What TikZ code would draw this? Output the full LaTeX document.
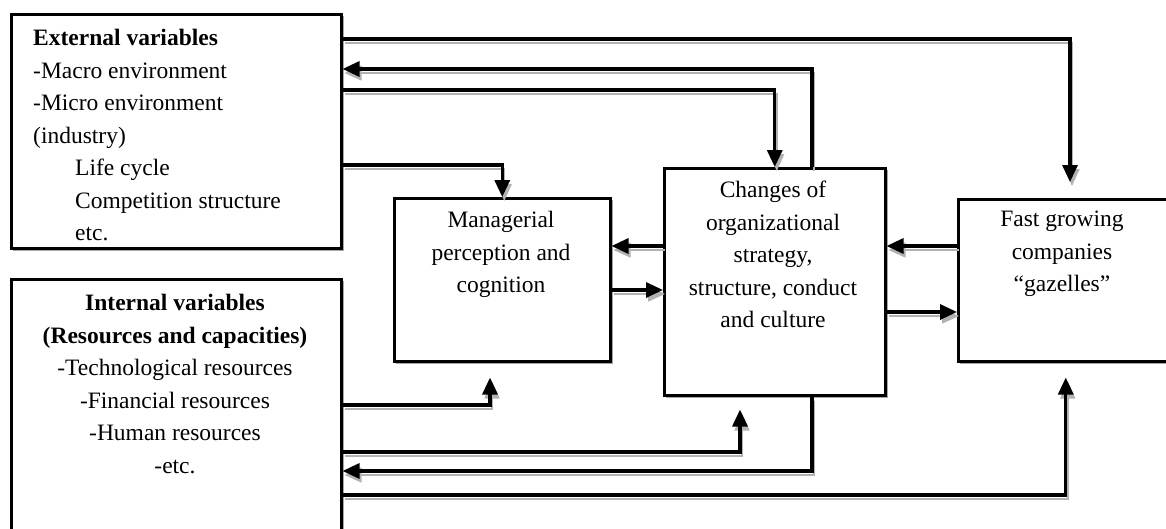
\documentclass[tikz,border=0pt]{standalone}
\usepackage{fontspec}
\setmainfont{Liberation Serif}
\usetikzlibrary{arrows.meta}
\begin{document}
\begin{tikzpicture}[x=1pt,y=-1pt,
  box/.style={draw, line width=2.5pt, fill=white, inner sep=0pt,
    preaction={draw=black!35, line width=1.4pt, transform canvas={xshift=2pt,yshift=-2pt}}},
  txt/.style={inner sep=0pt, font=\fontsize{23.5}{32.5}\selectfont},
  conn/.style={line width=3.2pt, -{Triangle[length=17pt,width=15pt]},
    preaction={draw=black!30, line width=1.5pt, transform canvas={xshift=2pt,yshift=-4pt}}}]
\useasboundingbox (0,0) rectangle (1166,528);
\fill[white] (0,0) rectangle (1166,528);
% boxes
\node[box, minimum width=330pt, minimum height=234pt, anchor=north west] (ext) at (10,13) {};
\node[box, minimum width=330pt, minimum height=256pt, anchor=north west] (int) at (10,278) {};
\node[box, minimum width=216pt, minimum height=163pt, anchor=north west] (man) at (393,197) {};
\node[box, minimum width=221pt, minimum height=227pt, anchor=north west] (chg) at (663,167) {};
\node[box, minimum width=215pt, minimum height=162pt, anchor=north west] (fast) at (957,198) {};
% texts
\node[txt, anchor=north west, align=left] (extT) at (33,29) {\textbf{External variables}\\-Macro environment\\-Micro environment\\(industry)\\\hspace*{42pt}Life cycle\\\hspace*{42pt}Competition structure\\\hspace*{42pt}etc.};
\node[txt, anchor=north, align=center] (intT) at (175,294) {\textbf{Internal variables}\\\textbf{(Resources and capacities)}\\-Technological resources\\-Financial resources\\-Human resources\\-etc.};
\node[txt, anchor=north, align=center] (manT) at (501,211) {Managerial\\perception and\\cognition};
\node[txt, anchor=north, align=center] (chgT) at (773,181) {Changes of\\organizational\\strategy,\\structure, conduct\\and culture};
\node[txt, anchor=north, align=center] (fastT) at (1062,211) {Fast growing\\companies\\“gazelles”};
% helper coordinates
\coordinate (h39) at (0,39);
\coordinate (h69) at (0,69);
\coordinate (h90) at (0,90);
\coordinate (h165) at (0,165);
\coordinate (h246) at (0,246);
\coordinate (h290) at (0,290);
\coordinate (h312) at (0,312);
\coordinate (h405) at (0,405);
\coordinate (h452) at (0,452);
\coordinate (h471) at (0,471);
\coordinate (h495) at (0,495);
\coordinate (v1070) at (1070,0);
\coordinate (v812) at (812,0);
\coordinate (v490) at (490,0);
\coordinate (v740) at (740,0);
% connectors
\draw[conn, shorten >=16pt] (ext.east |- h39) -| (fast.north -| v1070);
\draw[conn] (chg.north -| v812) |- (ext.east |- h69);
\draw[conn] (ext.east |- h90) -| (chg.north);
\draw[conn] (ext.east |- h165) -| (man.north);
\draw[conn] (chg.west |- h246) -- (man.east |- h246);
\draw[conn] (man.east |- h290) -- (chg.west |- h290);
\draw[conn] (fast.west |- h246) -- (chg.east |- h246);
\draw[conn] (chg.east |- h312) -- (fast.west |- h312);
\draw[conn, shorten >=15pt] (int.east |- h405) -| (man.south -| v490);
\draw[conn, shorten >=13pt] (int.east |- h452) -| (chg.south -| v740);
\draw[conn] (chg.south -| v812) |- (int.east |- h471);
\draw[conn, shorten >=15pt] (int.east |- h495) -| (fast.south);
\end{tikzpicture}
\end{document}
